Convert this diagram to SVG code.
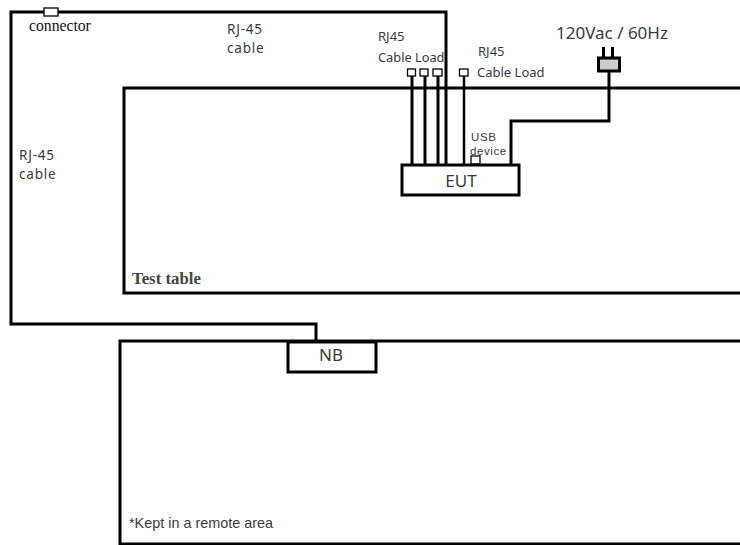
<svg xmlns="http://www.w3.org/2000/svg" width="740" height="545" viewBox="0 0 740 545">
<style>
.w{fill:none;stroke:#000;stroke-width:3;stroke-linejoin:miter}
.b{fill:#fff;stroke:#000;stroke-width:3}
.s{fill:#fff;stroke:#000;stroke-width:1.3}
text{font-family:"Noto Sans","Open Sans",sans-serif;fill:#3a3a3a}
.serif{font-family:"Liberation Serif",serif}
.cab{font-size:13.500px;letter-spacing:.8px}
.usb{font-family:"Liberation Sans",sans-serif;font-size:11.500px;letter-spacing:.6px}
</style>
<rect width="740" height="545" fill="#fff"/>
<g id="test-table">
<path class="w" d="M740 88H124V293H740"/>
<text class="serif" x="132" y="284" font-size="16.800" font-weight="bold" style="fill:#444">Test table</text>
</g>
<g id="remote-table">
<path class="w" d="M740 341H120V544H740"/>
<text x="129" y="528" font-size="14.400" style="font-family:'Liberation Sans',sans-serif">*Kept in a remote area</text>
</g>
<g id="connectors">
<path class="w" d="M316 341V324H11V12H446V166"/>
<path class="w" d="M412 76V166M425 76V166M438 76V166"/>
<path d="M464 76V166" fill="none" stroke="#000" stroke-width="2.500"/>
<path class="w" d="M609 72V121H511V166"/>
</g>
<g id="connector">
<rect class="s" x="44" y="8" width="14" height="8"/>
<text class="serif" x="29" y="31" font-size="15.700" style="fill:#111">connector</text>
</g>
<g id="rj45-left"><text class="cab" x="19" y="160">RJ-45</text><text class="cab" x="19" y="179">cable</text></g>
<g id="rj45-top"><text class="cab" x="227" y="34">RJ-45</text><text class="cab" x="227" y="53">cable</text></g>
<g id="cable-load-1">
<rect class="s" x="407.500" y="69" width="8" height="7"/>
<rect class="s" x="420" y="69" width="8" height="7"/>
<rect class="s" x="433" y="69" width="9" height="7"/>
<text x="378" y="41" font-size="13">RJ45</text>
<text x="378" y="62" font-size="12.800">Cable Load</text>
</g>
<g id="cable-load-2">
<rect class="s" x="459.500" y="69" width="8.500" height="7"/>
<text x="478" y="56" font-size="13">RJ45</text>
<text x="477" y="77" font-size="13">Cable Load</text>
</g>
<g id="power-plug">
<path d="M603.500 47V58M612.500 47V58" fill="none" stroke="#000" stroke-width="3"/>
<rect x="598.500" y="58" width="21" height="13" fill="#ccc" stroke="#000" stroke-width="3"/>
<text x="556" y="39" font-size="17">120Vac / 60Hz</text>
</g>
<g id="usb-device">
<text class="usb" x="471" y="141">USB</text>
<text class="usb" x="470" y="154.500">device</text>
<rect class="s" x="471" y="156" width="9" height="8"/>
</g>
<g id="EUT">
<rect class="b" x="402" y="165" width="117" height="30"/>
<text x="461" y="187" font-size="17" text-anchor="middle">EUT</text>
</g>
<g id="NB">
<rect class="b" x="288" y="342" width="88" height="30"/>
<text x="331" y="361" font-size="17" text-anchor="middle">NB</text>
</g>
</svg>
